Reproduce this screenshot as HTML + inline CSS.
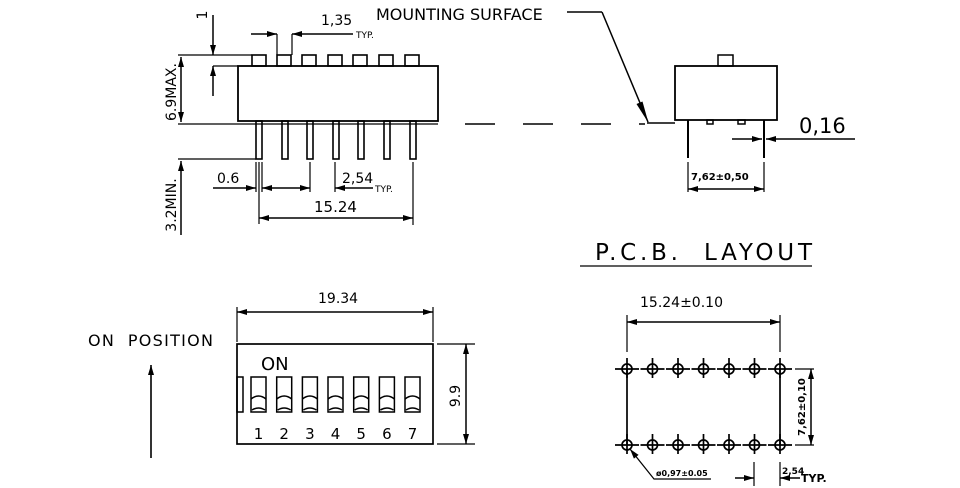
<!DOCTYPE html>
<html><head><meta charset="utf-8"><style>
html,body{margin:0;padding:0;background:#fff}
svg{display:block}
text{font-family:"DejaVu Sans","Liberation Sans",sans-serif;fill:#000;white-space:pre}
</style></head><body>
<svg width="960" height="488" viewBox="0 0 960 488" xmlns="http://www.w3.org/2000/svg" xml:space="preserve">
<defs>
<marker id="a" viewBox="0 0 10 6" refX="10" refY="3" markerWidth="11" markerHeight="6" orient="auto-start-reverse" markerUnits="userSpaceOnUse"><path d="M0,0L10,3L0,6Z" fill="#000"/></marker>
</defs>
<g stroke="#000" stroke-width="1.5" fill="none">
<rect x="238" y="66" width="200" height="55" stroke-width="1.8"/>
<line x1="178" y1="124" x2="438" y2="124" stroke-width="1.2"/>
<g stroke-width="1.6">
<rect x="252" y="55" width="14" height="11"/><rect x="277" y="55" width="14" height="11"/><rect x="302" y="55" width="14" height="11"/><rect x="328" y="55" width="14" height="11"/><rect x="353" y="55" width="14" height="11"/><rect x="379" y="55" width="14" height="11"/><rect x="405" y="55" width="14" height="11"/>
<rect x="256" y="121" width="6" height="38"/><rect x="282" y="121" width="6" height="38"/><rect x="307" y="121" width="6" height="38"/><rect x="333" y="121" width="6" height="38"/><rect x="358" y="121" width="6" height="38"/><rect x="384" y="121" width="6" height="38"/><rect x="410" y="121" width="6" height="38"/>
</g>
<line x1="178" y1="55" x2="252" y2="55" stroke-width="1.2"/>
<line x1="178" y1="159" x2="256" y2="159" stroke-width="1.2"/>
<line x1="181" y1="57" x2="181" y2="122" marker-start="url(#a)" marker-end="url(#a)"/>
<line x1="181" y1="161" x2="181" y2="235" marker-start="url(#a)"/>
<line x1="213" y1="15" x2="213" y2="55" marker-end="url(#a)"/>
<line x1="213" y1="96" x2="213" y2="66" marker-end="url(#a)"/>
<line x1="213" y1="66" x2="238" y2="66" stroke-width="1.2"/>
<line x1="277" y1="34" x2="277" y2="55" stroke-width="1.2"/><line x1="292" y1="34" x2="292" y2="55" stroke-width="1.2"/>
<line x1="251" y1="34" x2="277" y2="34" marker-end="url(#a)"/>
<line x1="353" y1="34" x2="292" y2="34" marker-end="url(#a)"/>
<line x1="256" y1="162" x2="256" y2="192" stroke-width="1.2"/><line x1="259" y1="162" x2="259" y2="224" stroke-width="1.2"/><line x1="262" y1="162" x2="262" y2="192" stroke-width="1.2"/>
<line x1="310" y1="162" x2="310" y2="192" stroke-width="1.2"/><line x1="335" y1="162" x2="335" y2="192" stroke-width="1.2"/>
<line x1="413" y1="162" x2="413" y2="225" stroke-width="1.2"/>
<line x1="213" y1="188" x2="256" y2="188" marker-end="url(#a)"/>
<line x1="262" y1="188" x2="310" y2="188" marker-start="url(#a)" marker-end="url(#a)"/>
<line x1="373" y1="188" x2="335" y2="188" marker-end="url(#a)"/>
<line x1="259" y1="218" x2="413" y2="218" marker-start="url(#a)" marker-end="url(#a)"/>
<polyline points="567,12 602,12"/>
<line x1="602" y1="12" x2="648" y2="122"/>
<path d="M642.5,101.5 L648.5,123 L636.5,104 Z" fill="#000" stroke="none"/>
<line x1="647" y1="123" x2="675" y2="123"/>
<line x1="465" y1="124" x2="645" y2="124" stroke-dasharray="30,28"/>
<rect x="675" y="66" width="102" height="54" stroke-width="1.8"/>
<rect x="718" y="55" width="15" height="11"/>
<rect x="707" y="120" width="6" height="4"/><rect x="738" y="120" width="7" height="4"/>
<line x1="688" y1="120" x2="688" y2="158" stroke-width="2"/><line x1="764" y1="120" x2="764" y2="158" stroke-width="2"/>
<line x1="732" y1="139" x2="762" y2="139" marker-end="url(#a)"/>
<line x1="855" y1="139" x2="766" y2="139" marker-end="url(#a)"/>
<line x1="688" y1="162" x2="688" y2="192" stroke-width="1.2"/><line x1="764" y1="162" x2="764" y2="192" stroke-width="1.2"/>
<line x1="688" y1="189" x2="764" y2="189" marker-start="url(#a)" marker-end="url(#a)"/>
<line x1="580" y1="266" x2="812" y2="266" stroke-width="1.2"/>
<line x1="237" y1="307" x2="237" y2="342" stroke-width="1.2"/><line x1="433" y1="307" x2="433" y2="342" stroke-width="1.2"/>
<line x1="237" y1="312" x2="433" y2="312" marker-start="url(#a)" marker-end="url(#a)"/>
<rect x="237" y="344" width="196" height="100" stroke-width="1.7"/>
<line x1="437" y1="344" x2="475" y2="344" stroke-width="1.2"/><line x1="437" y1="444" x2="475" y2="444" stroke-width="1.2"/>
<line x1="466" y1="344" x2="466" y2="444" marker-start="url(#a)" marker-end="url(#a)"/>
<rect x="237" y="377" width="6" height="35"/>
<g stroke-width="1.5">
<g id="sw"><rect x="251" y="377" width="15" height="35"/><path d="M251,399 Q258.5,393 266,399"/><path d="M252,410 Q258.5,406 265,410"/></g>
<use href="#sw" x="25.7"/><use href="#sw" x="51.4"/><use href="#sw" x="77"/><use href="#sw" x="102.7"/><use href="#sw" x="128.4"/><use href="#sw" x="154"/>
</g>
<line x1="151" y1="458" x2="151" y2="365" marker-end="url(#a)" stroke-width="1.6"/>
<line x1="627" y1="315" x2="627" y2="352" stroke-width="1.2"/><line x1="780" y1="315" x2="780" y2="352" stroke-width="1.2"/>
<line x1="627" y1="322" x2="780" y2="322" marker-start="url(#a)" marker-end="url(#a)"/>
<line x1="627" y1="369" x2="627" y2="445" stroke-width="1.7"/><line x1="780" y1="369" x2="780" y2="445" stroke-width="1.7"/>
<g id="row" stroke-width="1.7"><g id="h"><circle cx="627" cy="369" r="5"/><line x1="615" y1="369" x2="639" y2="369"/><line x1="627" y1="358" x2="627" y2="378"/></g>
<use href="#h" x="25.5"/><use href="#h" x="51"/><use href="#h" x="76.5"/><use href="#h" x="102"/><use href="#h" x="127.5"/><use href="#h" x="153"/></g>
<use href="#row" y="76"/>
<line x1="795" y1="369" x2="814" y2="369" stroke-width="1.2"/><line x1="795" y1="445" x2="814" y2="445" stroke-width="1.2"/>
<line x1="811" y1="369" x2="811" y2="445" marker-start="url(#a)" marker-end="url(#a)"/>
<polyline points="711,479 654,479 630,449" marker-end="url(#a)" stroke-width="1.2"/>
<line x1="754" y1="462" x2="754" y2="486" stroke-width="1.2"/><line x1="780" y1="462" x2="780" y2="486" stroke-width="1.2"/>
<line x1="735" y1="478" x2="754" y2="478" marker-end="url(#a)"/>
<line x1="800" y1="478" x2="780" y2="478" marker-end="url(#a)"/>
</g>
<g font-size="15">
<text transform="translate(207,15) rotate(-90)" text-anchor="middle" font-size="14">1</text>
<text transform="translate(176,92) rotate(-90)" text-anchor="middle" font-size="14">6.9MAX.</text>
<text transform="translate(176,205) rotate(-90)" text-anchor="middle" font-size="14">3.2MIN.</text>
<text x="321" y="25" font-size="14">1,35</text>
<text x="356" y="38" font-size="9">TYP.</text>
<text x="217" y="183" font-size="14">0.6</text>
<text x="342" y="183" font-size="14">2,54</text>
<text x="375" y="192" font-size="9">TYP.</text>
<text x="314" y="212" font-size="15">15.24</text>
<text x="376" y="20" font-size="16">MOUNTING SURFACE</text>
<text x="799" y="133" font-size="21">0,16</text>
<text x="691" y="180" font-size="10" font-weight="bold">7,62±0,50</text>
<text x="595" y="260" font-size="23" textLength="217">P.C.B.  LAYOUT</text>
<text x="318" y="303" font-size="14">19.34</text>
<text transform="translate(460,396) rotate(-90)" text-anchor="middle" font-size="14">9.9</text>
<text x="261" y="370" font-size="18">ON</text>
<g font-size="15" text-anchor="middle"><text x="258.5" y="439">1</text><text x="284.2" y="439">2</text><text x="309.9" y="439">3</text><text x="335.5" y="439">4</text><text x="361.2" y="439">5</text><text x="386.9" y="439">6</text><text x="412.5" y="439">7</text></g>
<text x="88" y="346" font-size="16" textLength="125">ON  POSITION</text>
<text x="640" y="307" font-size="14">15.24±0.10</text>
<text transform="translate(805,407) rotate(-90)" text-anchor="middle" font-size="10" font-weight="bold">7,62±0,10</text>
<text x="656" y="476" font-size="8" font-weight="bold">ø0,97±0.05</text>
<text x="782" y="474" font-size="9" font-weight="bold">2,54</text>
<text x="801" y="482" font-size="11" font-weight="bold">TYP.</text>
</g>
</svg>
</body></html>
